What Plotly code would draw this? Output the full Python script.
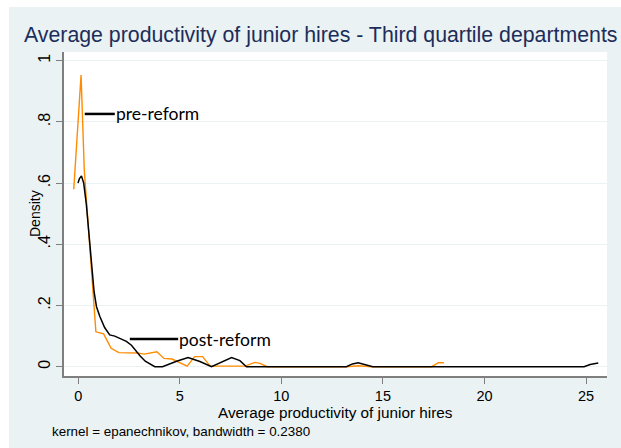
import plotly.graph_objects as go

# Kernel density estimates of average junior-hire productivity
pre_x = [-0.22, 0.14, 0.30, 0.52, 0.75, 0.87, 1.25, 1.62, 2.00, 2.38, 2.90, 3.25,
         3.87, 4.22, 4.62, 5.36, 5.73, 6.12, 6.50, 8.20, 8.70, 8.95, 9.30,
         13.20, 13.80, 14.45, 17.40, 17.73, 18.00]
pre_y = [0.580, 0.953, 0.640, 0.425, 0.200, 0.114, 0.107, 0.060, 0.046, 0.045, 0.045, 0.041,
         0.049, 0.027, 0.025, 0.002, 0.033, 0.033, 0.002, 0.002, 0.014, 0.011, 0.000,
         0.000, 0.003, 0.000, 0.000, 0.013, 0.013]

post_x = [-0.01, 0.06, 0.16, 0.27, 0.40, 0.50, 0.65, 0.78, 0.90, 1.06, 1.30, 1.55,
          1.80, 2.04, 2.37, 2.62, 2.85, 3.05, 3.30, 3.55, 3.77, 4.15, 4.51, 4.84,
          5.41, 5.99, 6.56, 7.05, 7.55, 7.96, 8.28, 13.20, 13.50, 13.78, 14.10,
          14.50, 24.90, 25.20, 25.60]
post_y = [0.600, 0.615, 0.623, 0.600, 0.530, 0.460, 0.350, 0.245, 0.196, 0.165, 0.128, 0.104,
          0.100, 0.092, 0.083, 0.070, 0.050, 0.035, 0.018, 0.007, 0.000, 0.000, 0.010, 0.018,
          0.030, 0.017, 0.000, 0.016, 0.030, 0.020, 0.000, 0.000, 0.009, 0.013, 0.008,
          0.000, 0.000, 0.007, 0.012]

# Line-and-label markers identifying each curve
pre_label = {"text": "pre-reform", "x": [0.32, 1.80], "y": 0.826}
post_label = {"text": "post-reform", "x": [2.54, 4.92], "y": 0.0905}

x_ticks = [0, 5, 10, 15, 20, 25]
y_ticks = [0, 0.2, 0.4, 0.6, 0.8, 1.0]
y_tick_text = ["0", ".2", ".4", ".6", ".8", "1"]

BG = "#EAF2F3"
ORANGE = "#FF8C00"
NAVY = "#1C2D5A"

fig = go.Figure()
fig.add_trace(go.Scatter(x=pre_x, y=pre_y, mode="lines",
                         line=dict(color=ORANGE, width=1.4), showlegend=False))
fig.add_trace(go.Scatter(x=post_x, y=post_y, mode="lines",
                         line=dict(color="black", width=1.5), showlegend=False))

for lab in (pre_label, post_label):
    fig.add_trace(go.Scatter(x=lab["x"], y=[lab["y"], lab["y"]], mode="lines",
                             line=dict(color="black", width=2.5), showlegend=False))
    fig.add_annotation(x=lab["x"][1], y=lab["y"], text=lab["text"], showarrow=False,
                       xanchor="left", yanchor="middle", xshift=-1,
                       font=dict(family="Lato", size=17.5, color="black"))

# figure title and axis titles
fig.add_annotation(xref="paper", yref="paper", x=0.4724, y=1.0525,
                   text="Average productivity of junior hires - Third quartile departments",
                   showarrow=False, xanchor="center", yanchor="middle",
                   font=dict(family="Liberation Sans", size=21.3, color=NAVY))
fig.add_annotation(xref="paper", yref="paper", x=0.5, y=-0.1125,
                   text="Average productivity of junior hires", showarrow=False,
                   xanchor="center", yanchor="middle",
                   font=dict(family="Liberation Sans", size=15.3, color="black"))
fig.add_annotation(xref="paper", yref="paper", x=-0.0534, y=0.5, textangle=-90,
                   text="Density", showarrow=False, xanchor="center", yanchor="middle",
                   font=dict(family="Liberation Sans", size=14, color="black"))
fig.add_annotation(xref="paper", yref="paper", x=-0.0258, y=-0.172,
                   text="kernel = epanechnikov, bandwidth = 0.2380", showarrow=False,
                   xanchor="left", yanchor="middle",
                   font=dict(family="Liberation Sans", size=13.4, color="black"))

# white margins along the top and left edges of the canvas
fig.add_shape(type="rect", xref="paper", yref="paper", x0=-0.1179, x1=1.0258,
              y0=1.1389, y1=1.17, fillcolor="white", line_width=0, layer="below")
fig.add_shape(type="rect", xref="paper", yref="paper", x0=-0.1179, x1=-0.1013,
              y0=-0.23, y1=1.17, fillcolor="white", line_width=0, layer="below")

fig.update_xaxes(range=[-0.70, 26.03], tickvals=x_ticks, showgrid=False, zeroline=False,
                 showline=True, linecolor="#7f7f7f", linewidth=1.5,
                 ticks="outside", ticklen=6, tickcolor="#7f7f7f",
                 tickfont=dict(family="Liberation Sans", size=14.5, color="black"))
fig.update_yaxes(range=[-0.0304, 1.0284], tickvals=y_ticks, ticktext=y_tick_text,
                 tickangle=-90, showgrid=True, gridcolor=BG, gridwidth=1.2, zeroline=False,
                 showline=True, linecolor="#7f7f7f", linewidth=1.5,
                 ticks="outside", ticklen=6, tickcolor="#7f7f7f",
                 tickfont=dict(family="Liberation Sans", size=16, color="black"))

fig.update_layout(width=621, height=448,
                  margin=dict(l=64, r=14, t=52, b=72),
                  paper_bgcolor=BG, plot_bgcolor="white")

fig.write_html("out.html")
